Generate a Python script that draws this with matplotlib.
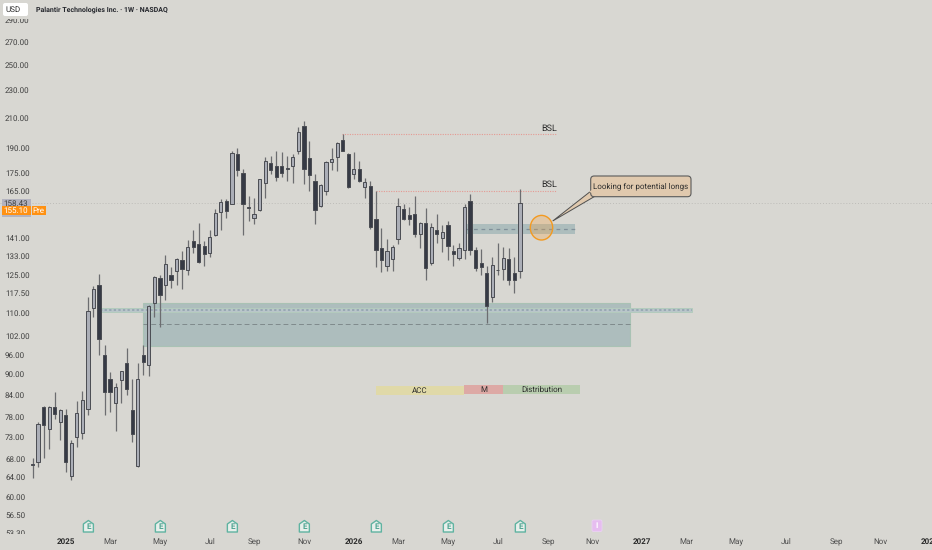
import matplotlib
matplotlib.use("Agg")
import matplotlib.pyplot as plt
from matplotlib.patches import Ellipse, FancyBboxPatch, Polygon, Rectangle

plt.rcParams['font.family'] = ['Liberation Sans Narrow', 'Roboto', 'DejaVu Sans']
plt.rcParams['text.hinting'] = 'none'
plt.rcParams['text.hinting_factor'] = 1

# weekly candles
opens = [67.0, 67.5, 80.7, 75.1, 80.7, 77.0, 78.8, 64.4, 73.3, 74.1, 80.2, 112.0, 120.8, 96.0, 88.7,
         82.0, 88.5, 93.5, 80.1, 66.6, 95.9, 92.9, 113.9, 123.6, 120.8, 124.8, 126.8, 131.3, 127.1, 140.0,
         138.6, 137.5, 134.3, 142.7, 153.8, 159.7, 158.3, 186.2, 174.9, 156.4, 151.1, 154.8, 169.5, 180.7, 179.3,
         178.9, 178.3, 179.3, 188.4, 204.7, 183.9, 170.3, 156.9, 164.8, 181.7, 184.7, 195.0, 186.5, 174.6, 177.7,
         167.3, 168.0, 150.5, 136.5, 128.8, 131.9, 141.0, 155.3, 152.6, 153.1, 143.3, 148.4, 130.0, 144.9, 141.1,
         147.5, 135.2, 132.3, 135.9, 159.7, 135.7, 130.2, 125.7, 116.2, 127.2, 127.4, 131.9, 126.0, 126.6]
highs = [68.4, 76.8, 81.1, 81.0, 84.9, 80.2, 80.2, 72.5, 82.4, 85.3, 116.4, 120.7, 125.4, 99.1, 90.7,
         87.4, 91.1, 98.3, 88.7, 93.5, 99.1, 113.3, 124.7, 125.2, 133.5, 128.2, 132.2, 135.3, 140.3, 145.0,
         148.3, 139.7, 145.0, 155.4, 160.6, 160.6, 188.2, 190.0, 177.3, 162.2, 161.0, 171.4, 184.3, 185.3, 188.0,
         187.8, 185.0, 186.4, 204.0, 207.7, 194.7, 174.3, 168.8, 182.0, 190.1, 194.1, 199.1, 187.2, 187.4, 182.2,
         172.0, 170.6, 165.1, 145.9, 140.8, 137.9, 161.2, 158.3, 156.6, 162.3, 149.1, 156.1, 148.3, 152.8, 147.5,
         149.5, 138.0, 139.1, 158.3, 163.5, 137.2, 136.2, 128.8, 132.8, 139.0, 136.9, 136.6, 132.5, 166.0]
lows = [64.0, 66.2, 68.2, 70.4, 77.6, 72.5, 65.3, 63.5, 70.8, 72.8, 78.6, 108.9, 96.0, 78.8, 79.4,
        74.7, 82.0, 84.2, 72.0, 66.3, 89.8, 89.4, 108.9, 105.4, 115.1, 119.6, 121.0, 119.2, 124.8, 134.3,
        130.2, 128.8, 132.5, 142.2, 145.0, 151.1, 158.0, 173.5, 142.5, 149.4, 147.9, 154.6, 161.2, 174.4, 170.6,
        172.9, 170.6, 169.5, 186.4, 168.8, 164.8, 147.8, 156.3, 162.7, 177.1, 176.4, 188.2, 166.5, 171.6, 170.0,
        161.1, 145.5, 128.3, 126.3, 126.6, 126.6, 138.5, 149.9, 147.5, 141.5, 136.5, 122.9, 129.2, 139.1, 134.9,
        131.3, 128.8, 131.5, 131.8, 133.5, 126.8, 125.0, 106.6, 114.4, 124.8, 122.8, 120.8, 117.9, 123.9]
closes = [66.8, 76.4, 76.1, 80.8, 79.1, 80.1, 67.3, 71.8, 79.2, 82.7, 110.9, 119.2, 101.3, 85.0, 85.0,
          86.4, 91.0, 85.9, 74.0, 88.7, 93.8, 112.9, 124.3, 117.1, 129.6, 123.0, 131.6, 127.7, 137.2, 137.2,
          130.6, 134.1, 141.8, 153.4, 158.9, 154.2, 186.8, 176.7, 158.3, 155.9, 153.1, 171.4, 182.2, 177.1, 172.9,
          175.2, 177.7, 184.3, 200.3, 177.4, 173.7, 155.0, 168.4, 181.4, 183.3, 193.2, 188.4, 167.3, 177.3, 170.6,
          169.7, 146.3, 135.7, 131.3, 135.2, 136.9, 156.9, 150.6, 150.6, 143.1, 148.4, 128.0, 146.3, 143.0, 143.9,
          137.5, 133.8, 136.7, 156.4, 135.7, 127.9, 128.2, 112.9, 129.3, 126.9, 132.3, 122.9, 122.9, 158.4]

price_ticks = [290, 270, 250, 230, 210, 190, 175, 165, 141, 133, 125, 117.5, 110, 102, 96, 90, 84, 78, 73, 68, 64, 60, 56.5, 53.3]
month_pos = [6, 14, 23, 32, 40, 49, 58, 66, 75, 84, 93, 101, 110, 118, 127, 136, 145, 153, 162]
month_labels = ['2025', 'Mar', 'May', 'Jul', 'Sep', 'Nov', '2026', 'Mar', 'May', 'Jul', 'Sep', 'Nov', '2027', 'Mar', 'May', 'Jul', 'Sep', 'Nov', '2028']
earnings_pos = [10, 23, 36, 49, 62, 75, 88]

BG = '#d8d7d2'
UP = '#abaeb7'
DOWN = '#363a45'
WICK = '#6c6d70'
EDGE = '#4a4c52'
TEXT = '#3f3f3f'

fig = plt.figure(figsize=(9.32, 5.5), dpi=100, facecolor=BG)
ax = fig.add_axes([0, 0, 1, 1], facecolor=BG)
ax.set_yscale('log')
ax.set_xlim(-5.88, 162.41)
ax.set_ylim(50.39, 310.1)
ax.axis('off')

# zones
ax.add_patch(Rectangle((20, 98.9), 87.8, 14.95, fc='#adbdbd', ec='#a9c2b4', lw=0.8, zorder=1))
ax.add_patch(Rectangle((12.1, 110.7), 106.9, 1.4, fc='#b9c6c9', ec='#b3cbbd', lw=0.7, zorder=1.5))
ax.plot([12.1, 119], [111.4, 111.4], color='#8f9fae', lw=1.1, ls=(0, (1.5, 1.5)), zorder=1.6)
ax.plot([20, 107.8], [106.2, 106.2], color='#7f8a8c', lw=0.7, ls=(0, (5, 3)), zorder=1.6)
ax.add_patch(Rectangle((78.2, 143.1), 19.7, 4.8, fc='#adbdbd', ec='none', zorder=1))
ax.plot([78.2, 97.9], [145.5, 145.5], color='#81909a', lw=0.9, ls=(0, (3, 3)), zorder=1.6)

# levels
ax.axhline(158.43, color='#bdbcb8', lw=0.7, ls=(0, (1, 2)), zorder=1)
ax.plot([55.8, 94.6], [199.0, 199.0], color='#e59a93', lw=0.8, ls=(0, (1, 1.2)), zorder=2)
ax.plot([62, 94.6], [165.1, 165.1], color='#e59a93', lw=0.8, ls=(0, (1, 1.2)), zorder=2)

# candles
xs = list(range(len(opens)))
ax.vlines(xs, lows, highs, color=WICK, lw=0.9, zorder=3)
for i in xs:
    bottom = min(opens[i], closes[i])
    height = max(abs(closes[i] - opens[i]), 0.25)
    color = UP if closes[i] >= opens[i] else DOWN
    ax.bar(i, height, bottom=bottom, width=0.58, color=color, edgecolor=EDGE, lw=0.7, zorder=4)

# price labels
for p in price_ticks:
    ax.annotate(f'{p:.2f}', xy=(0, p), xycoords=ax.get_yaxis_transform(), xytext=(3.6, -0.3),
                textcoords='offset points', fontsize=5.9, color=TEXT, va='center', ha='left', zorder=5)

# pixel overlay for the chart furniture
ov = fig.add_axes([0, 0, 1, 1], facecolor='none')
ov.set_xlim(0, 932)
ov.set_ylim(550, 0)
ov.axis('off')

# header and footer cover the clipped tick labels
ov.add_patch(Rectangle((0, 0), 932, 19, fc=BG, ec='none', zorder=1))
ov.add_patch(Rectangle((0, 534), 80, 16, fc=BG, ec='none', zorder=1))
ov.add_patch(FancyBboxPatch((3.5, 3.5), 24, 12, boxstyle='round,pad=0.5,rounding_size=2', fc='white', ec='none', zorder=2))
ov.text(13.5, 10, 'USD', fontsize=5.9, color='#333333', ha='center', va='center', zorder=3)
ov.text(36, 10, 'Palantir Technologies Inc. · 1W · NASDAQ', fontsize=5.4, color='#26282e', ha='left', va='center', fontweight='bold', zorder=3)

# last price tags
ov.add_patch(Rectangle((2, 199), 29, 18, fc='#b3b3bf', ec='none', zorder=2))
ov.text(16, 203.5, '158.43', fontsize=5.9, color=TEXT, ha='center', va='center', zorder=3)
ov.add_patch(Rectangle((2, 206), 29, 9, fc='#ff9112', ec='none', zorder=4))
ov.add_patch(Rectangle((32, 206), 13.5, 9, fc='#ff9112', ec='none', zorder=4))
ov.text(16, 210.5, '155.10', fontsize=5.9, color='white', ha='center', va='center', zorder=5)
ov.text(38.7, 210.5, 'Pre', fontsize=5.7, color='white', ha='center', va='center', zorder=5)

# phase boxes
phases = [('ACC', 376, 464, 385.7, 395, '#e0d9a8'),
          ('M', 464, 503, 385, 394, '#dda9a5'),
          ('Distribution', 503, 580, 385, 393.7, '#b9cdaf')]
for name, x0, x1, y0, y1, c in phases:
    ov.add_patch(Rectangle((x0, y0), x1 - x0, y1 - y0, fc=c, ec='none', zorder=2))
    ov.text((x0 + x1) / 2, (y0 + y1) / 2 + 0.3, name, fontsize=6.1, color='#2e2e2e', ha='center', va='center', zorder=3)

ov.text(549, 128, 'BSL', fontsize=6.3, color='#2e2e2e', ha='center', va='center')
ov.text(549, 184, 'BSL', fontsize=6.3, color='#2e2e2e', ha='center', va='center')

# circle and callout
ov.add_patch(Ellipse((541.5, 227.7), 22.4, 24.6, fc=(0.96, 0.62, 0.22, 0.28), ec='#f39a21', lw=1.0, zorder=2))
CALL = '#e0c9ae'
ov.add_patch(Polygon([(552.7, 221), (591, 191), (595, 196.2)], closed=True, fc=CALL, ec='#4f4f4f', lw=0.7, zorder=3))
ov.add_patch(FancyBboxPatch((592.7, 178), 96.3, 16.7, boxstyle='round,pad=2,rounding_size=3.5', fc=CALL, ec='#5a5a5a', lw=0.8, zorder=4))
ov.add_patch(Polygon([(589, 191.5), (596, 188), (596.5, 196)], closed=True, fc=CALL, ec='none', zorder=5))
ov.text(641, 186.5, 'Looking for potential longs', fontsize=5.8, color='#2e2e2e', ha='center', va='center', zorder=6)

# earnings flags, dates on the x axis
for b in earnings_pos:
    cx = 33 + 5.538 * b
    shape = [(cx - 5, 524), (cx, 520.5), (cx + 5, 524), (cx + 5, 532), (cx - 5, 532)]
    ov.add_patch(Polygon(shape, closed=True, fc='#e8efeb', ec='#5fb3a1', lw=1.0, joinstyle='round', zorder=3))
    ov.text(cx, 526.8, 'E', fontsize=5.6, color='#4fa492', ha='center', va='center', fontweight='bold', zorder=4)
ov.add_patch(FancyBboxPatch((592.5, 520.5), 9, 10.5, boxstyle='round,pad=0.5,rounding_size=1.5', fc='#e6bdf0', ec='#ead2f2', lw=0.6, zorder=3))
ov.text(597, 525.8, 'I', fontsize=6, color='white', ha='center', va='center', fontweight='bold', zorder=4)

for b, lab in zip(month_pos, month_labels):
    cx = 33 + 5.538 * b
    bold = lab.isdigit()
    ov.text(cx, 544, lab, fontsize=5.9, color='#2b2b2b' if bold else '#4e4e4e', ha='center', va='baseline',
            fontweight='bold' if bold else 'normal', zorder=4)

fig.savefig('out.png', dpi=100, facecolor=BG)
